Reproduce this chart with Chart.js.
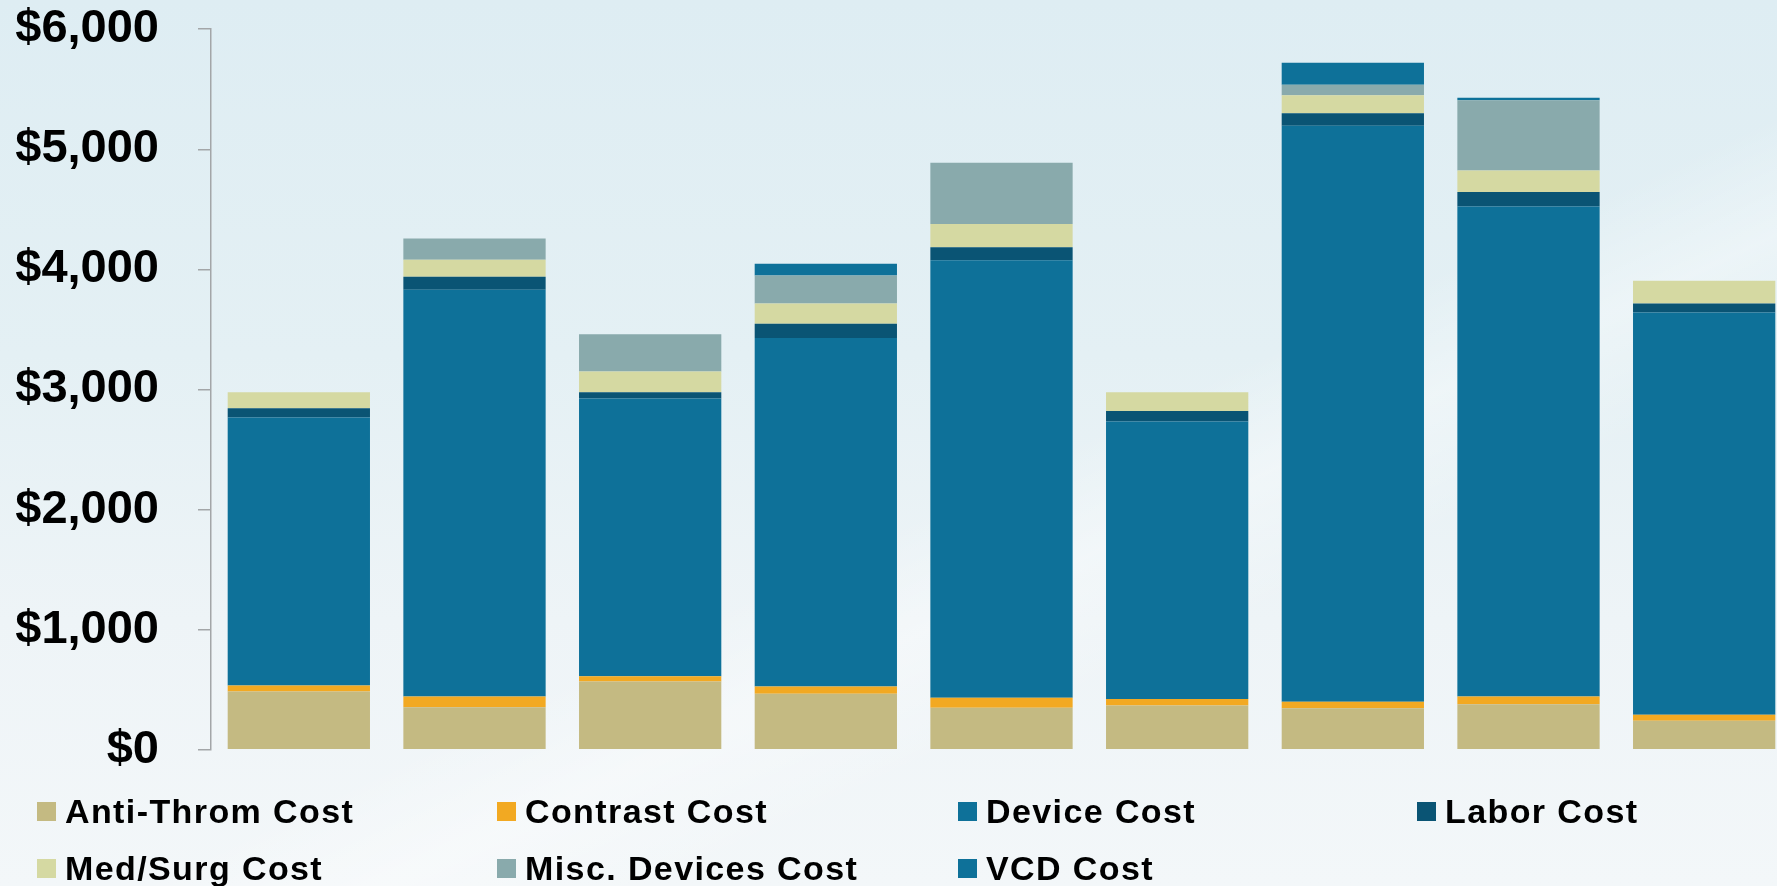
<!DOCTYPE html>
<html>
<head>
<meta charset="utf-8">
<script src="https://cdn.jsdelivr.net/npm/chart.js@4.4.1/dist/chart.umd.min.js"></script>
<style>
  html, body { margin:0; padding:0; width:1777px; height:886px; overflow:hidden; }
  body {
    position:relative;
    background:
      linear-gradient(155deg, rgba(255,255,255,0) 0%, rgba(255,255,255,0) 55%, rgba(255,255,255,0.35) 62%, rgba(255,255,255,0) 70%, rgba(255,255,255,0) 100%),
      linear-gradient(180deg, #DEEDF3 0%, #E4F0F4 40%, #EEF4F7 70%, #F3F7F9 100%);
    font-family: "Liberation Sans", Arial, sans-serif;
  }
  #wrap { position:absolute; left:0; top:-38px; width:1792px; height:855px; }
  #legend { position:absolute; left:0; top:0; width:1777px; height:886px; pointer-events:none; }
  .item { position:absolute; height:34px; display:flex; align-items:center; white-space:nowrap; }
  .box { width:19px; height:19px; margin-right:9px; flex:none; }
  .lbl { font: bold 34px "Liberation Sans", Arial, sans-serif; line-height:34px; color:#000; letter-spacing:1.4px; }
</style>
</head>
<body>
<div id="wrap"><canvas id="c"></canvas></div>
<div id="legend"></div>
<script>
const categories = ["1","2","3","4","5","6","7","8","9"];
const antiThrom  = [486, 355, 569, 466, 350, 369, 347, 380, 241];
const contrast   = [ 49,  89,  44,  61,  83,  53,  53,  64,  50];
const device     = [2232,3386,2312,2901,3644,2312,4796,4080,3350];
const labor      = [ 77, 108,  53, 119, 108,  86, 105, 120,  75];
const medSurg    = [133, 142, 172, 169, 192, 158, 150, 180, 189];
const miscDev    = [  0, 178, 311, 233, 511,   0,  86, 585,   0];
const vcd        = [  0,   0,   0,  98,   0,   0, 183,  20,   0];
const yTicks     = [0, 1000, 2000, 3000, 4000, 5000, 6000];

const seriesNames  = ["Anti-Throm Cost","Contrast Cost","Device Cost","Labor Cost","Med/Surg Cost","Misc. Devices Cost","VCD Cost"];
const seriesData   = [antiThrom, contrast, device, labor, medSurg, miscDev, vcd];
const seriesColors = ["#C4BA82","#F2A922","#0E7199","#0A5474","#D5D9A2","#89AAAC","#0E7199"];

const datasets = seriesNames.map((n,i)=>({
  label:n, data:seriesData[i], backgroundColor:seriesColors[i],
  borderWidth:0, barPercentage:0.81, categoryPercentage:1.0
}));

const chart = new Chart(document.getElementById('c'), {
  type:'bar',
  data:{ labels:categories, datasets },
  options:{
    responsive:true, maintainAspectRatio:false, animation:false,
    layout:{ padding:{ top:29, bottom:50, left:0, right:0 } },
    plugins:{ legend:{ display:false }, tooltip:{ enabled:false } },
    scales:{
      x:{ stacked:true, display:false },
      y:{
        stacked:true, min:0, max:6000,
        afterBuildTicks: s => { s.ticks = yTicks.map(v=>({value:v})); },
        afterFit: s => { s.width = 211; },
        border:{ display:true, color:'#A3A6A8', width:1.5 },
        grid:{ drawOnChartArea:false, drawTicks:true, tickLength:13, color:'#A3A6A8', lineWidth:1.5 },
        ticks:{
          padding:39, color:'#000',
          font:{ family:'"Liberation Sans", Arial, sans-serif', size:47, weight:'bold' },
          callback: v => '$' + Number(v).toLocaleString('en-US')
        }
      }
    }
  }
});

const legend = document.getElementById('legend');
const colX = [37, 497, 958, 1417];
const rowY = [794, 851];
chart.data.datasets.forEach((ds,i)=>{
  const it = document.createElement('div');
  it.className='item';
  it.style.left = colX[i%4]+'px';
  it.style.top = rowY[Math.floor(i/4)]+'px';
  const b = document.createElement('span'); b.className='box'; b.style.background=ds.backgroundColor;
  const t = document.createElement('span'); t.className='lbl'; t.textContent=ds.label;
  it.appendChild(b); it.appendChild(t);
  legend.appendChild(it);
});
</script>
</body>
</html>
